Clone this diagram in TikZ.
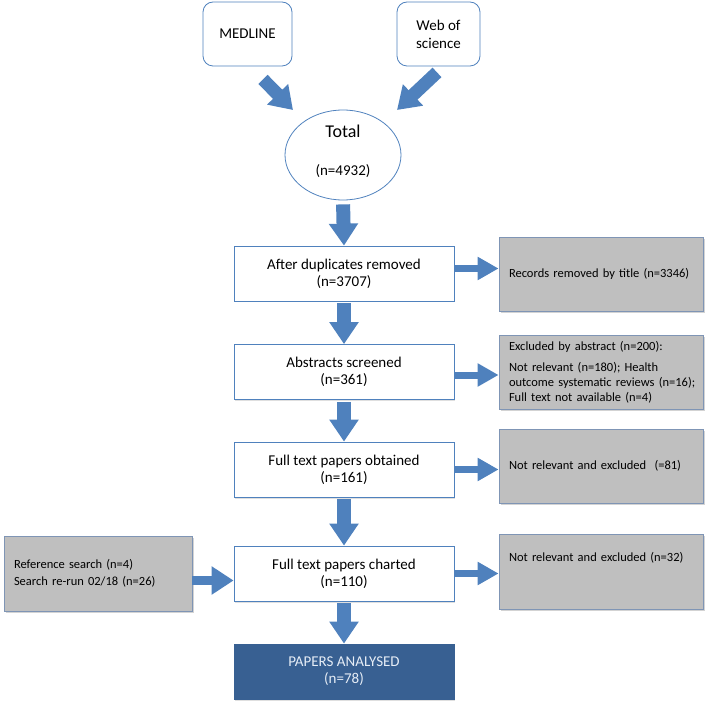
\documentclass[tikz,border=0pt]{standalone}
\usepackage{fontspec}
\setmainfont{Carlito}
\usetikzlibrary{shapes.geometric,arrows.meta,shadows}
\definecolor{flowblue}{HTML}{4F81BD}
\definecolor{darkflow}{HTML}{386092}
\definecolor{greyfill}{HTML}{BFBFBF}
\definecolor{greyline}{HTML}{7F95B5}

\begin{document}
\begin{tikzpicture}[x=1pt,y=-1pt,
        srcbox/.style={draw=flowblue,line width=0.8pt,rounded corners=10pt,fill=white,
            minimum height=64pt,align=center,font=\fontsize{15}{18}\selectfont},
        stagebox/.style={draw=flowblue,line width=0.8pt,fill=white,minimum width=220pt,
            minimum height=55pt,align=center,font=\fontsize{15}{17}\selectfont,
            drop shadow={shadow xshift=1pt,shadow yshift=-1.5pt,opacity=0.25}},
        notebox/.style={draw=greyline,line width=0.8pt,fill=greyfill,minimum height=74pt,
            text width=#1,inner xsep=10pt,align=left,font=\fontsize{12.5}{15}\selectfont,
            drop shadow={shadow xshift=1.5pt,shadow yshift=-2pt,opacity=0.35}},
        vflow/.style={line width=14pt,flowblue,-{Triangle[width=28pt,length=22pt]}},
        dflow/.style={line width=13pt,flowblue,-{Triangle[width=28pt,length=22pt]}},
        hflow/.style={line width=7pt,flowblue,-{Triangle[width=22pt,length=21pt]}}]
        \useasboundingbox (0,0) rectangle (709,708);
        % sources
        \node[srcbox,minimum width=89pt] (medline) at (247.5,34) {MEDLINE};
        \node[srcbox,minimum width=83pt] (web) at (438.5,34) {Web of\\science};
        \node[ellipse,draw=flowblue,line width=0.8pt,minimum width=116pt,minimum height=90pt,
            inner sep=0pt,align=center,font=\fontsize{15}{18}\selectfont] (total) at (343,155)
            {{\fontsize{18}{20}\selectfont Total}\\[20pt](n=4932)\rule[-10pt]{0pt}{10pt}};
        % main column
        \node[stagebox] (dup) at (344,273.5) {After duplicates removed\\(n=3707)};
        \node[stagebox] (abs) at (344,372) {Abstracts screened\\(n=361)};
        \node[stagebox] (obtained) at (344,469.5) {Full text papers obtained\\(n=161)};
        \node[stagebox] (charted) at (344,573.5) {Full text papers charted\\(n=110)};
        \node[stagebox,fill=darkflow,draw=darkflow,text=white!86!flowblue] (analysed) at (344,671.5)
            {PAPERS ANALYSED\\(n=78)};
        % side notes
        \node[notebox=184pt] (bytitle) at (601,274) {Records removed by title (n=3346)};
        \node[notebox=184pt] (byabstract) at (601,372)
            {Excluded by abstract (n=200):\\[6pt]Not relevant (n=180); Health\\\mbox{outcome systematic reviews (n=16);}\\Full text not available (n=4)};
        \node[notebox=184pt] (excl81) at (601,466) {Not relevant and excluded~ (=81)};
        \node[notebox=184pt,minimum height=75pt] (excl32) at (601,571.5)
            {Not relevant and excluded (n=32)\rule[-29pt]{0pt}{29pt}};
        \node[notebox=168pt,minimum height=75pt] (extra) at (98,573.5)
            {Reference search (n=4)\\[2pt]Search re-run 02/18 (n=26)};
        % arrows
        \draw[dflow] ([shift={(15.5,13)}]medline.south) -- ([shift={(-50,-45)}]total.center);
        \draw[dflow] ([shift={(-1.5,6)}]web.south) -- ([shift={(54,-45)}]total.center);
        \draw[vflow,shorten <=4pt] (total.south) -- (dup.north);
        \draw[vflow,shorten <=2pt] (dup.south) -- (abs.north);
        \draw[vflow,shorten <=2pt] (abs.south) -- (obtained.north);
        \draw[vflow,shorten <=2pt] (obtained.south) -- (charted.north);
        \draw[vflow,shorten <=2pt] (charted.south) -- (analysed.north);
        \draw[hflow] ([yshift=5pt]dup.east) -- ([yshift=5pt]dup.east -| bytitle.west);
        \draw[hflow] ([yshift=-3pt]abs.east) -- ([yshift=-3pt]abs.east -| byabstract.west);
        \draw[hflow] (obtained.east) -- (obtained.east -| excl81.west);
        \draw[hflow] (charted.east) -- (charted.east -| excl32.west);
        \draw[hflow,line width=9pt,-{Triangle[width=27pt,length=22pt]}]
            ([yshift=-7pt]extra.east) -- ([yshift=-7pt]charted.west);
\end{tikzpicture}
\end{document}
